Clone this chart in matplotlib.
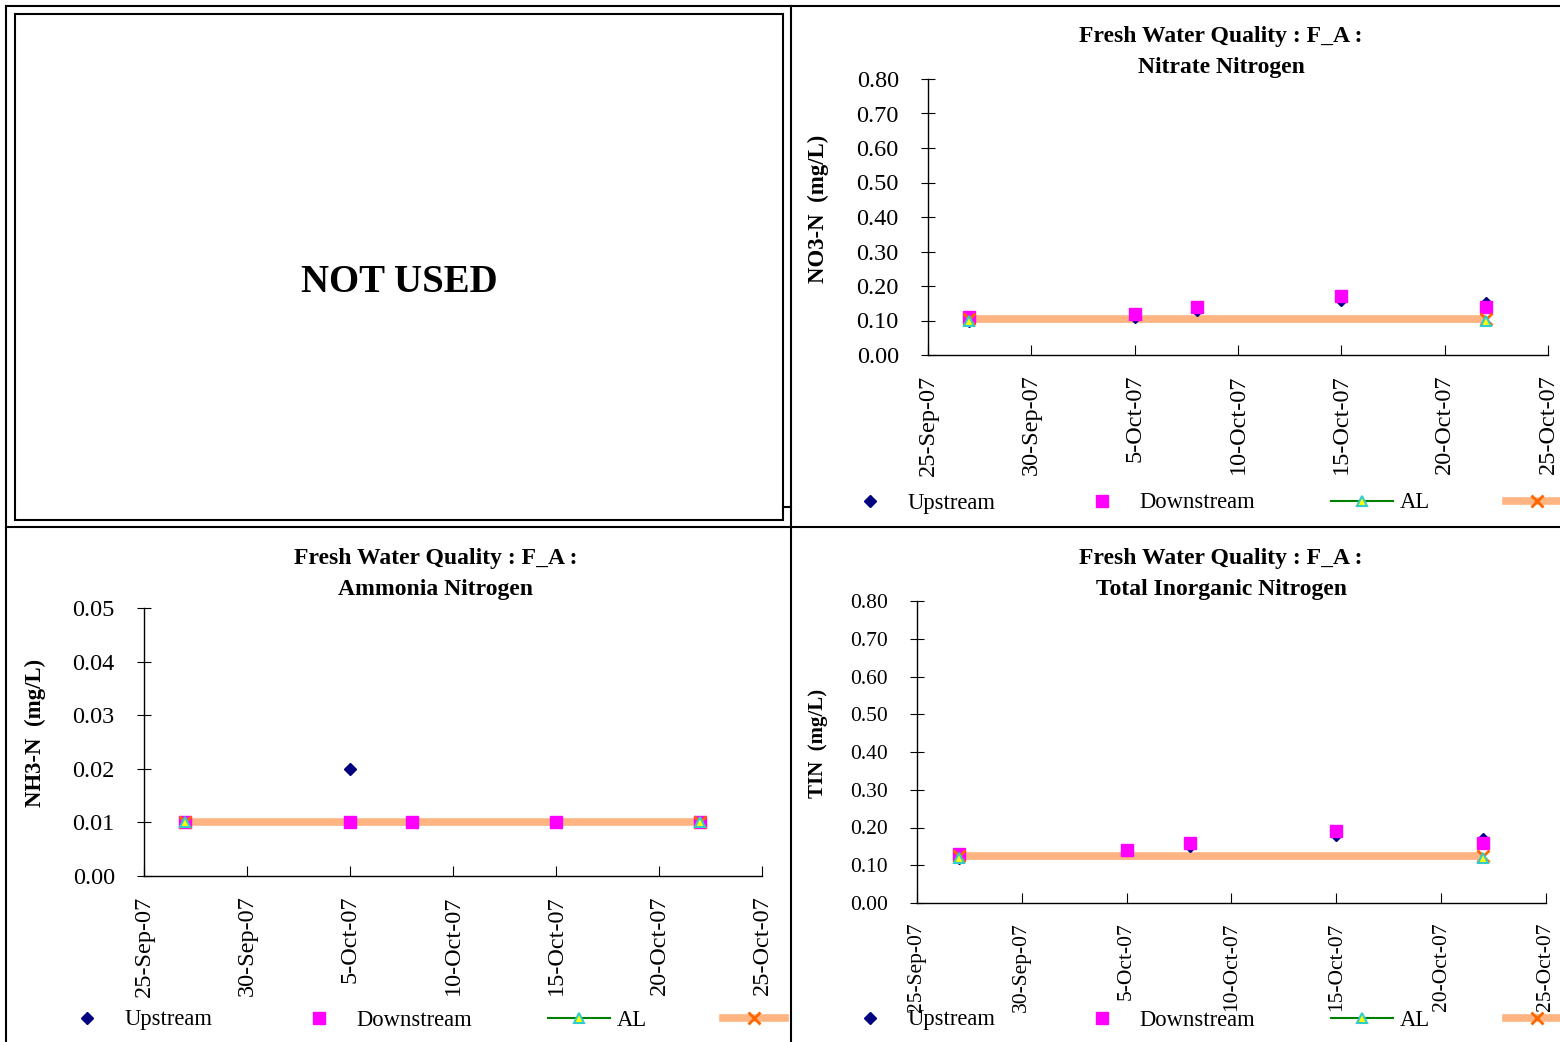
import datetime as dt
import matplotlib
matplotlib.use("Agg")
import matplotlib.pyplot as plt
import matplotlib.dates as mdates
from matplotlib.lines import Line2D
from matplotlib.patches import Rectangle
from matplotlib.ticker import FormatStrFormatter, FuncFormatter
from matplotlib.transforms import Bbox, TransformedBbox

plt.rcParams['font.family'] = ['Liberation Serif', 'DejaVu Serif']

# sampling dates
dates = [dt.datetime(2007, 9, 27), dt.datetime(2007, 10, 5), dt.datetime(2007, 10, 8),
         dt.datetime(2007, 10, 15), dt.datetime(2007, 10, 22)]
limit_dates = [dt.datetime(2007, 9, 27), dt.datetime(2007, 10, 22)]

# nitrate nitrogen
no3_up = [0.10, 0.11, 0.13, 0.16, 0.15]
no3_down = [0.11, 0.12, 0.14, 0.17, 0.14]
no3_al = [0.10, 0.10]
no3_ll = [0.105, 0.105]

# ammonia nitrogen
nh3_up = [0.01, 0.02, 0.01, 0.01, 0.01]
nh3_down = [0.01, 0.01, 0.01, 0.01, 0.01]
nh3_al = [0.01, 0.01]
nh3_ll = [0.01, 0.01]

# total inorganic nitrogen
tin_up = [0.12, 0.14, 0.15, 0.18, 0.17]
tin_down = [0.13, 0.14, 0.16, 0.19, 0.16]
tin_al = [0.12, 0.12]
tin_ll = [0.125, 0.125]

series_labels = ["Upstream", "Downstream", "AL", "LL"]

W, H = 1560, 1042
fig = plt.figure(figsize=(W / 100, H / 100), dpi=100)


def px_rect(x0, y_top, x1, y_bot):
    return [x0 / W, 1 - y_bot / H, (x1 - x0) / W, (y_bot - y_top) / H]


def date_fmt(x, pos):
    d = mdates.num2date(x)
    return "%d-%s" % (d.day, d.strftime("%b-%y"))


def panel(rect, up, down, al, ll, ymax, ystep, ylabel, title, title_xy, ylab_xy,
          leg_xy, fs_tick, fs_ylab):
    ax = fig.add_axes(px_rect(*rect))
    ax.plot(limit_dates, al, color="#008000", lw=1, zorder=1.9)
    ax.plot(limit_dates, ll, color="#FFB482", lw=5.5, solid_capstyle="butt", zorder=2)
    ax.plot(dates, up, ls="none", marker="D", ms=6.5, color="#000080", zorder=3)
    ax.plot(dates, down, ls="none", marker="s", ms=8, color="#FF00FF", zorder=3.1)
    ax.plot(limit_dates, ll, ls="none", marker="x", ms=8, mew=2, color="#FF6600", zorder=4)
    ax.plot(limit_dates, al, ls="none", marker="^", ms=7, mfc="#FFFF00",
            mec="#33CCCC", mew=1.5, zorder=4.1)

    ax.set_xlim(dt.datetime(2007, 9, 25), dt.datetime(2007, 10, 25))
    ax.set_ylim(0, ymax)
    ax.xaxis.set_major_locator(mdates.DayLocator(bymonthday=[5, 10, 15, 20, 25, 30]))
    ax.xaxis.set_major_formatter(FuncFormatter(date_fmt))
    ax.set_yticks([i * ystep for i in range(int(round(ymax / ystep)) + 1)])
    ax.yaxis.set_major_formatter(FormatStrFormatter("%.2f"))
    ax.tick_params(axis="x", direction="in", length=7, pad=14, rotation=90,
                   labelsize=fs_tick)
    ax.tick_params(axis="y", direction="inout", length=10, pad=16, labelsize=fs_tick)
    for s in ["top", "right"]:
        ax.spines[s].set_visible(False)
    for s in ["left", "bottom"]:
        ax.spines[s].set_linewidth(1)

    fig.text(title_xy[0] / W, 1 - title_xy[1] / H, title, ha="center", va="center",
             fontsize=17, fontweight="bold", linespacing=1.6)
    fig.text(ylab_xy[0] / W, 1 - ylab_xy[1] / H, ylabel, ha="center", va="center",
             rotation=90, fontsize=fs_ylab, fontweight="bold")

    handles = [
        Line2D([], [], ls="none", marker="D", ms=6.5, color="#000080"),
        Line2D([], [], ls="none", marker="s", ms=8, color="#FF00FF"),
        Line2D([], [], color="#008000", lw=1.5, marker="^", ms=7, mfc="#FFFF00",
               mec="#33CCCC", mew=1.5),
        Line2D([], [], color="#FFB482", lw=5.5, marker="x", ms=8, mew=2, mec="#FF6600"),
    ]
    leg = fig.legend(handles, series_labels, loc="center left",
                     bbox_to_anchor=(leg_xy[0] / W, 1 - leg_xy[1] / H), ncol=4,
                     frameon=False, handlelength=2.75, handletextpad=0.27,
                     columnspacing=3.35, borderpad=0, borderaxespad=0, fontsize=16.3,
                     numpoints=1)
    return ax, leg


panel((928, 79, 1548, 355), no3_up, no3_down, no3_al, no3_ll, 0.80, 0.10,
      "NO3-N  (mg/L)", "Fresh Water Quality : F_A :\nNitrate Nitrogen",
      (1221, 52), (818, 209), (839, 503), 17.5, 16.4)

ax2, leg2 = panel((144, 608, 762, 876), nh3_up, nh3_down, nh3_al, nh3_ll, 0.05, 0.01,
                  "NH3-N  (mg/L)", "Fresh Water Quality : F_A :\nAmmonia Nitrogen",
                  (436, 574), (35, 733), (56, 1020), 17.5, 16.4)
# bottom-left legend runs into the next panel, cut it at the divider
clip = TransformedBbox(Bbox([[0, 0], [790 / W, 1 - 527 / H]]), fig.transFigure)
for a in list(leg2.get_texts()) + list(leg2.legend_handles):
    a.set_clip_box(clip)
    a.set_clip_on(True)

panel((917, 601, 1546, 903), tin_up, tin_down, tin_al, tin_ll, 0.80, 0.10,
      "TIN  (mg/L)", "Fresh Water Quality : F_A :\nTotal Inorganic Nitrogen",
      (1221, 574), (818, 743), (839, 1020), 15.5, 15)

# panel frame lines
frame = dict(color="black", lw=1.5, transform=fig.transFigure)
fig.add_artist(Line2D([6 / W, 1], [1 - 6 / H, 1 - 6 / H], **frame))
fig.add_artist(Line2D([6 / W, 6 / W], [0, 1 - 6 / H], **frame))
fig.add_artist(Line2D([791 / W, 791 / W], [0, 1 - 6 / H], **frame))
fig.add_artist(Line2D([6 / W, 1], [1 - 527 / H, 1 - 527 / H], **frame))

# unused panel box
fig.add_artist(Rectangle((15 / W, 1 - 520 / H), 768 / W, 506 / H, fill=False,
                         ec="black", lw=1.5, transform=fig.transFigure))
fig.add_artist(Line2D([783 / W, 791 / W], [1 - 507 / H, 1 - 507 / H], **frame))
fig.text(399 / W, 1 - 283 / H, "NOT USED", ha="center", va="center",
         fontsize=28, fontweight="bold")

fig.savefig("out.png", dpi=100)
